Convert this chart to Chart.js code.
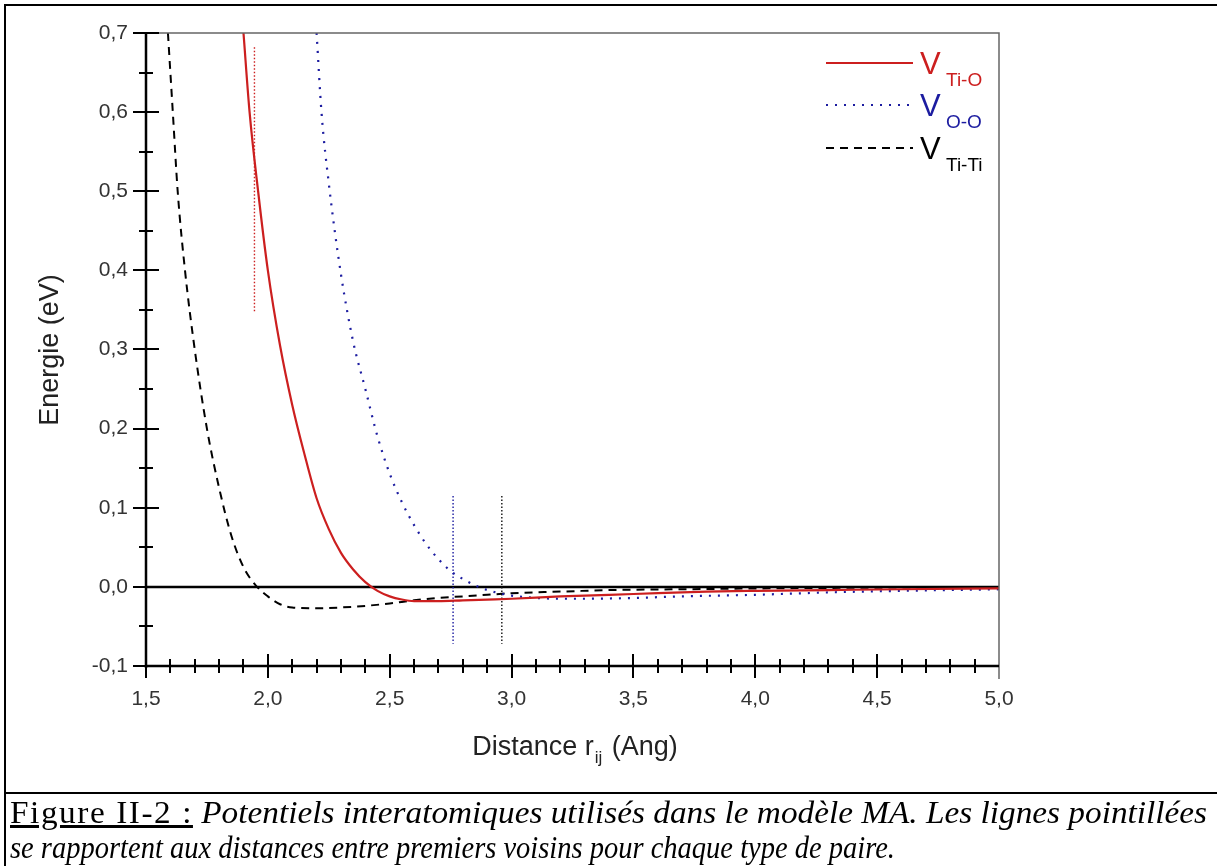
<!DOCTYPE html>
<html><head><meta charset="utf-8">
<script src="https://cdn.jsdelivr.net/npm/chart.js@4.4.1/dist/chart.umd.min.js"></script>
<style>
html,body{margin:0;padding:0;background:#fff;}
body{width:1217px;height:866px;position:relative;overflow:hidden;}
#wrap{position:absolute;left:0;top:0;width:1217px;height:866px;}
.bl{position:absolute;background:#000;}
#cap{position:absolute;left:10px;top:795px;font-family:"Liberation Serif","Times New Roman",serif;font-size:32px;line-height:35px;color:#000;white-space:nowrap;}
#cap .u{text-decoration:underline;font-style:normal;letter-spacing:1.5px;}
#cap i{font-style:italic;}
#l1,#l2{display:inline-block;transform-origin:0 0;}
</style></head><body>
<div id="wrap"><canvas id="c" width="1217" height="866"></canvas></div>
<div class="bl" style="left:4px;top:4px;width:2px;height:862px"></div>
<div class="bl" style="left:4px;top:4px;width:1213px;height:2px"></div>
<div class="bl" style="left:4px;top:792px;width:1213px;height:2px"></div>
<div id="cap"><span id="l1"><span class="u">Figure II-2 :</span> <i>Potentiels interatomiques utilisés dans le modèle MA. Les lignes pointillées</i></span><br><span id="l2"><i>se rapportent aux distances entre premiers voisins pour chaque type de paire.</i></span></div>
<script>
// ---- Data ----
const tiO_r = [1.90,1.925,1.96,2.00,2.05,2.10,2.15,2.20,2.25,2.30,2.35,2.40,2.45,2.50,2.55,2.60,2.70,2.80,2.90,3.00,3.20,3.40,3.60,3.80,4.00,4.30,4.60,5.00];
const tiO_v = [0.70,0.60,0.50,0.40,0.305,0.23,0.168,0.112,0.073,0.043,0.022,0.006,-0.005,-0.012,-0.016,-0.018,-0.018,-0.017,-0.016,-0.015,-0.012,-0.010,-0.008,-0.006,-0.005,-0.004,-0.003,-0.002];

const oO_r = [2.20,2.22,2.25,2.30,2.35,2.40,2.45,2.50,2.55,2.60,2.65,2.70,2.75,2.80,2.85,2.90,2.95,3.00,3.10,3.20,3.30,3.50,3.70,4.00,4.30,4.60,5.00];
const oO_v = [0.70,0.60,0.51,0.395,0.31,0.25,0.19,0.143,0.107,0.078,0.054,0.035,0.020,0.010,0.002,-0.004,-0.008,-0.011,-0.014,-0.015,-0.015,-0.014,-0.012,-0.010,-0.007,-0.005,-0.003];

const tiTi_r = [1.59,1.61,1.63,1.66,1.70,1.75,1.80,1.85,1.90,1.95,2.00,2.05,2.10,2.20,2.30,2.40,2.50,2.60,2.70,2.80,2.90,3.00,3.20,3.40,3.70,4.00,4.50,5.00];
const tiTi_v = [0.70,0.60,0.50,0.40,0.30,0.20,0.125,0.065,0.025,0.002,-0.012,-0.022,-0.026,-0.027,-0.026,-0.024,-0.021,-0.017,-0.014,-0.012,-0.010,-0.008,-0.006,-0.004,-0.003,-0.002,-0.001,-0.0005];

// first-neighbour distance markers (Ti-O, O-O, Ti-Ti)
const markerR = [1.945, 2.76, 2.96];
const markerTop = [0.682, 0.115, 0.115];
const markerBottom = [0.347, -0.072, -0.072];

const xTicks = [1.5,2.0,2.5,3.0,3.5,4.0,4.5,5.0];
const yTicks = [-0.1,0.0,0.1,0.2,0.3,0.4,0.5,0.6,0.7];

const legendLabels = [["V","Ti-O"],["V","O-O"],["V","Ti-Ti"]];
const xTitle = ["Distance r","ij"," (Ang)"];
const yTitle = "Energie (eV)";

const RED = '#cc1f1f', BLUE = '#1c1ca0', BLACK = '#000';
const pts = (xs, ys) => xs.map((x,i)=>({x:x, y:ys[i]}));
const fmt = v => (Math.abs(v)<1e-9?0:v).toFixed(1).replace('.', ',');

const markerSets = markerR.map((r,i)=>({
  data: pts([r,r],[markerTop[i],markerBottom[i]]),
  borderColor: [RED,BLUE,'#111'][i], borderWidth: 1.4, borderDash: [1.5,2],
  pointRadius: 0, showLine: true, order: 5
}));

const SANS = '"Liberation Sans", Arial, sans-serif';
const axesPlugin = {
  id: 'axesPlugin',
  beforeDatasetsDraw(chart){
    const {ctx, chartArea:a, scales:{y}} = chart;
    const y0 = y.getPixelForValue(0);
    ctx.save();
    ctx.strokeStyle = '#000'; ctx.lineWidth = 2.5;
    ctx.beginPath(); ctx.moveTo(a.left, y0); ctx.lineTo(a.right, y0); ctx.stroke();
    ctx.restore();
  },
  afterDatasetsDraw(chart){
    const {ctx, chartArea:a, scales:{x,y}} = chart;
    ctx.save();
    ctx.strokeStyle = '#666'; ctx.lineWidth = 1.5;
    ctx.beginPath(); ctx.moveTo(a.left, a.top); ctx.lineTo(a.right, a.top);
    ctx.lineTo(a.right, a.bottom + 13); ctx.stroke();
    ctx.strokeStyle = '#000'; ctx.lineWidth = 2.5;
    ctx.beginPath(); ctx.moveTo(a.left, a.top); ctx.lineTo(a.left, a.bottom + 2);
    ctx.moveTo(a.left - 1, a.bottom); ctx.lineTo(a.right, a.bottom); ctx.stroke();
    ctx.lineWidth = 2;
    for (let k = 0; k < 35; k++) {
      const px = Math.round(x.getPixelForValue(1.5 + k*0.1));
      const h = (k % 5 === 0) ? 12 : 7;
      ctx.beginPath(); ctx.moveTo(px, a.bottom - h); ctx.lineTo(px, a.bottom + h); ctx.stroke();
    }
    for (let k = 0; k <= 16; k++) {
      const py = Math.round(y.getPixelForValue(-0.1 + k*0.05));
      const h = (k % 2 === 0) ? 13 : 7;
      ctx.beginPath(); ctx.moveTo(a.left - h, py); ctx.lineTo(a.left + h, py); ctx.stroke();
    }
    // axis titles
    ctx.fillStyle = '#222';
    ctx.textBaseline = 'alphabetic';
    ctx.font = '27px ' + SANS;
    ctx.save();
    ctx.translate(58, 350); ctx.rotate(-Math.PI/2);
    ctx.textAlign = 'center'; ctx.fillText(yTitle, 0, 0);
    ctx.restore();
    const w1 = ctx.measureText(xTitle[0]).width;
    ctx.font = '17px ' + SANS;
    const w2 = ctx.measureText(xTitle[1]).width;
    ctx.font = '27px ' + SANS;
    const w3 = ctx.measureText(xTitle[2]).width;
    const sx = 575 - (w1 + w2 + w3 + 3)/2, by = 755;
    ctx.textAlign = 'left';
    ctx.fillText(xTitle[0], sx, by);
    ctx.font = '17px ' + SANS;
    ctx.fillText(xTitle[1], sx + w1 + 1, by + 8);
    ctx.font = '27px ' + SANS;
    ctx.fillText(xTitle[2], sx + w1 + w2 + 3, by);
    // legend
    const ly = [63, 105, 148];
    const cols = [RED, BLUE, BLACK];
    const dashes = [[], [2,7], [8,6]];
    for (let i = 0; i < 3; i++) {
      ctx.strokeStyle = cols[i]; ctx.lineWidth = 2; ctx.setLineDash(dashes[i]);
      ctx.beginPath(); ctx.moveTo(826, ly[i]); ctx.lineTo(913, ly[i]); ctx.stroke();
      ctx.setLineDash([]);
      ctx.fillStyle = cols[i];
      ctx.font = '31px ' + SANS;
      ctx.fillText(legendLabels[i][0], 920, ly[i] + 11);
      ctx.font = '19px ' + SANS;
      ctx.fillText(legendLabels[i][1], 946, ly[i] + 23);
    }
    ctx.restore();
  }
};

new Chart(document.getElementById('c'), {
  type: 'scatter',
  data: { datasets: [
    { label: 'V Ti-O', data: pts(tiO_r, tiO_v), borderColor: RED, borderWidth: 2.2, pointRadius: 0, showLine: true, cubicInterpolationMode: 'monotone' },
    { label: 'V O-O', data: pts(oO_r, oO_v), borderColor: BLUE, borderWidth: 2.2, borderDash: [2,7], pointRadius: 0, showLine: true, cubicInterpolationMode: 'monotone' },
    { label: 'V Ti-Ti', data: pts(tiTi_r, tiTi_v), borderColor: BLACK, borderWidth: 2, borderDash: [8,6], pointRadius: 0, showLine: true, cubicInterpolationMode: 'monotone' },
    ...markerSets
  ]},
  options: {
    responsive: false, animation: false, devicePixelRatio: 1,
    layout: { padding: { left: 0, top: 33, right: 218, bottom: 0 } },
    plugins: { legend: { display: false }, tooltip: { enabled: false } },
    scales: {
      x: { type: 'linear', min: 1.5, max: 5.0,
        afterBuildTicks: s => { s.ticks = xTicks.map(v => ({value: v})); },
        afterFit: s => { s.height = 200; },
        grid: { display: false, drawTicks: false }, border: { display: false },
        ticks: { padding: 21, color: '#333', font: { family: SANS, size: 21 }, callback: v => fmt(v) } },
      y: { type: 'linear', min: -0.1, max: 0.7,
        afterBuildTicks: s => { s.ticks = yTicks.map(v => ({value: v})); },
        afterFit: s => { s.width = 146; },
        grid: { display: false, drawTicks: false }, border: { display: false },
        ticks: { padding: 18, color: '#333', font: { family: SANS, size: 21 }, callback: v => fmt(v) } }
    }
  },
  plugins: [axesPlugin]
});

// caption: each line is scaled horizontally to the width it has in the reference
(function(){
  const l1 = document.getElementById('l1'), l2 = document.getElementById('l2');
  const s1 = 1197 / l1.getBoundingClientRect().width;
  const s2 = 885 / l2.getBoundingClientRect().width;
  l1.style.transform = 'scaleX(' + s1 + ')';
  l2.style.transform = 'scaleX(' + s2 + ')';
})();
</script>
</body></html>
